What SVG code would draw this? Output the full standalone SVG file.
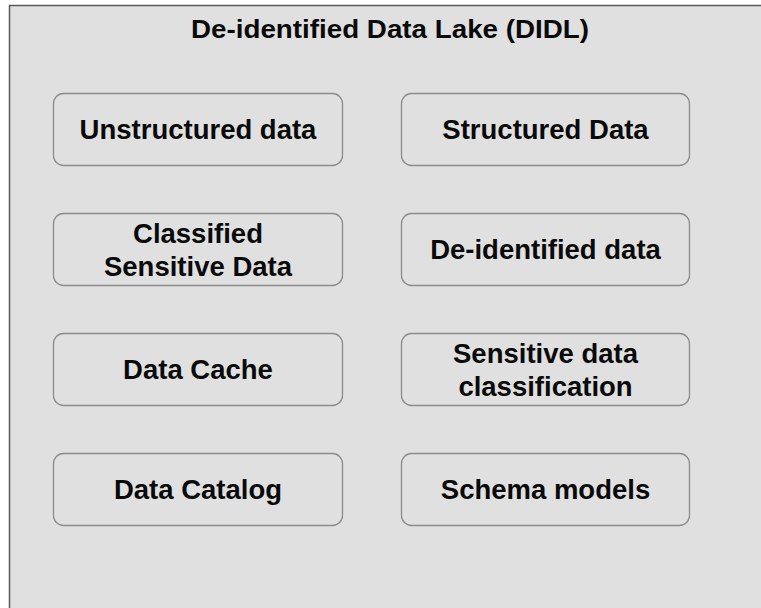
<svg xmlns="http://www.w3.org/2000/svg" width="761" height="608" viewBox="0 0 761 608">
  <style>
    .frame { fill: #e0e0e0; stroke: #5a5a5a; stroke-width: 1.5; }
    .box { fill: #e0e0e0; stroke: #8c8c8c; stroke-width: 1.3; }
    .lbl { font-family: "Liberation Sans", Arial, sans-serif; font-weight: bold; font-size: 27.5px; fill: #0a0a0a; text-anchor: middle; }
    .title { font-family: "Liberation Sans", Arial, sans-serif; font-weight: bold; font-size: 25px; fill: #0a0a0a; text-anchor: middle; }
  </style>
  <rect x="0" y="0" width="761" height="608" fill="#ffffff"/>
  <g id="didl">
    <rect class="frame" x="9.5" y="5.5" width="760" height="610"/>
    <text class="title" x="390" y="37.5" textLength="398" lengthAdjust="spacingAndGlyphs">De-identified Data Lake (DIDL)</text>
  </g>
  <g id="unstructured-data">
    <rect class="box" x="53.5" y="93.5" width="289" height="72" rx="10"/>
    <text class="lbl" x="198" y="139">Unstructured data</text>
  </g>
  <g id="structured-data">
    <rect class="box" x="401.5" y="93.5" width="288" height="72" rx="10"/>
    <text class="lbl" x="545.5" y="139">Structured Data</text>
  </g>
  <g id="classified-sensitive-data">
    <rect class="box" x="53.5" y="213.5" width="289" height="72" rx="10"/>
    <text class="lbl" x="198" y="243">Classified</text>
    <text class="lbl" x="198" y="275.5">Sensitive Data</text>
  </g>
  <g id="de-identified-data">
    <rect class="box" x="401.5" y="213.5" width="288" height="72" rx="10"/>
    <text class="lbl" x="545.5" y="259">De-identified data</text>
  </g>
  <g id="data-cache">
    <rect class="box" x="53.5" y="333.5" width="289" height="72" rx="10"/>
    <text class="lbl" x="198" y="379">Data Cache</text>
  </g>
  <g id="sensitive-data-classification">
    <rect class="box" x="401.5" y="333.5" width="288" height="72" rx="10"/>
    <text class="lbl" x="545.5" y="363">Sensitive data</text>
    <text class="lbl" x="545.5" y="395.5">classification</text>
  </g>
  <g id="data-catalog">
    <rect class="box" x="53.5" y="453.5" width="289" height="72" rx="10"/>
    <text class="lbl" x="198" y="499">Data Catalog</text>
  </g>
  <g id="schema-models">
    <rect class="box" x="401.5" y="453.5" width="288" height="72" rx="10"/>
    <text class="lbl" x="545.5" y="499">Schema models</text>
  </g>
  <g id="connectors"></g>
</svg>
